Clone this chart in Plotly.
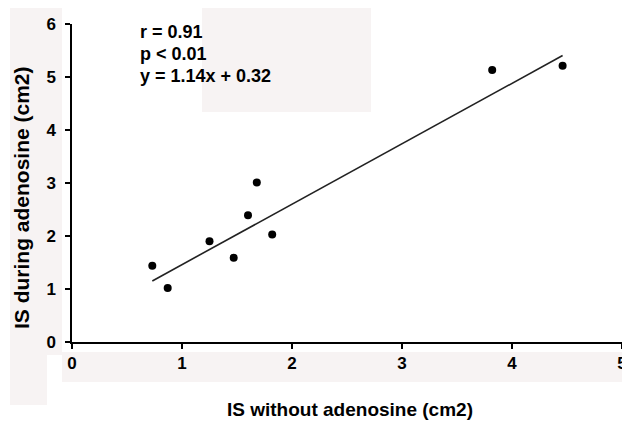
import plotly.graph_objects as go

# Data
is_without = [0.73, 0.87, 1.25, 1.47, 1.60, 1.68, 1.82, 3.82, 4.46]
is_during = [1.44, 1.02, 1.90, 1.59, 2.39, 3.01, 2.03, 5.13, 5.21]
slope = 1.14
intercept = 0.32
stats_lines = ["r = 0.91", "p < 0.01", "y = 1.14x + 0.32"]
x_ticks = [0, 1, 2, 3, 4, 5]
y_ticks = [0, 1, 2, 3, 4, 5, 6]

# page has an 8px body margin: figure is drawn offset by OFF
OFF = 8
W, H = 630 - OFF, 423 - OFF
L, T = 72 - OFF, 24 - OFF
R = W - (622 - OFF)
B = H - (342 - OFF)
FONT = "Liberation Sans, Arial, sans-serif"
BG = "#f7f3f3"

fit_x = [min(is_without), max(is_without)]
fit_y = [slope * v + intercept for v in fit_x]

fig = go.Figure()
fig.add_trace(go.Scatter(x=fit_x, y=fit_y, mode="lines",
                         line=dict(color="#222", width=1.6), hoverinfo="skip"))
fig.add_trace(go.Scatter(x=is_without, y=is_during, mode="markers",
                         marker=dict(color="black", size=8)))

PW, PH = W - L - R, H - T - B

def pxx(x):
    # screen x -> paper x
    return (x - OFF - L) / PW

def pyy(y):
    # screen y -> paper y
    return (H - B - (y - OFF)) / PH

shapes = []
# faint background artifacts of the scanned figure
for (x0, y0, x1, y1) in [(10, 8, 62, 355), (10, 355, 47, 405), (62, 352, 630, 382),
                         (202, 8, 371, 112)]:
    shapes.append(dict(type="rect", xref="paper", yref="paper", layer="below",
                       x0=pxx(x0), x1=pxx(x1), y0=pyy(y1), y1=pyy(y0),
                       fillcolor=BG, line=dict(width=0)))

annotations = []
for i, s in enumerate(stats_lines):
    annotations.append(dict(text=f"<b>{s}</b>", xref="paper", yref="paper",
                            x=pxx(138), y=pyy(32 + 22 * i),
                            xanchor="left", yanchor="middle", showarrow=False,
                            font=dict(family=FONT, size=18, color="black")))
annotations.append(dict(text="<b>IS without adenosine (cm2)</b>", xref="paper", yref="paper",
                        x=pxx(350), y=pyy(409),
                        xanchor="center", yanchor="middle", showarrow=False,
                        font=dict(family=FONT, size=19, color="black")))
annotations.append(dict(text="<b>IS during adenosine (cm2)</b>", xref="paper", yref="paper",
                        x=pxx(21), y=pyy(198),
                        xanchor="center", yanchor="middle", showarrow=False, textangle=-90,
                        font=dict(family=FONT, size=21, color="black")))

axis_common = dict(showgrid=False, zeroline=False, showline=True, linecolor="black",
                   linewidth=1.5, ticks="outside", ticklen=5, tickwidth=1.5,
                   tickcolor="black", tickfont=dict(family=FONT, size=17, color="black"),
                   fixedrange=True, automargin=False, ticklabeloverflow="allow")

fig.update_layout(
    width=W, height=H, margin=dict(l=L, r=R, t=T, b=B),
    paper_bgcolor="white", plot_bgcolor="rgba(0,0,0,0)",
    showlegend=False, shapes=shapes, annotations=annotations,
    font=dict(family=FONT, color="black"),
    xaxis=dict(range=[0, 5], tickvals=x_ticks, ticktext=[f"<b>{v}</b>" for v in x_ticks],
               ticklabelstandoff=0, **axis_common),
    yaxis=dict(range=[0, 6], tickvals=y_ticks, ticktext=[f"<b>{v}</b>" for v in y_ticks],
               ticklabelstandoff=6, **axis_common),
)

fig.write_html("out.html")
